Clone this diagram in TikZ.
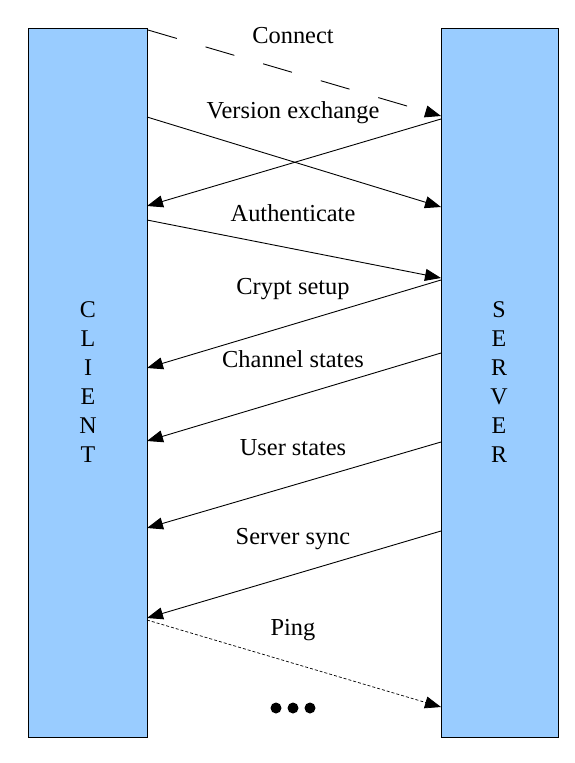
\documentclass[tikz,border=0pt]{standalone}
\usepackage{fontspec}
\setmainfont{Liberation Serif}
\usetikzlibrary{arrows.meta}
\definecolor{barblue}{HTML}{99CCFF}
\begin{document}
\begin{tikzpicture}[x=1pt,y=-1pt,
  bar/.style={draw=black,line width=0.9pt,fill=barblue,inner sep=0pt,outer sep=0pt},
  letters/.style={align=center,inner sep=0pt,font=\fontsize{24}{29}\selectfont},
  lbl/.style={anchor=base,inner sep=0pt,font=\fontsize{24.4}{29}\selectfont},
  msg/.style={line width=0.9pt,-{Triangle[length=16pt,width=12pt]}},
  dot/.style={circle,fill=black,inner sep=0pt,minimum size=11pt}]
\useasboundingbox (0,0) rectangle (574,763);
\node[bar,minimum width=119pt,minimum height=709pt] (client) at (87.5,382.5) {};
\node[bar,minimum width=117pt,minimum height=709pt] (server) at (499.5,382.5) {};
\node[letters] (clientlbl) at (88,382.5) {C\\L\\I\\E\\N\\T};
\node[letters] (serverlbl) at (499,382.5) {S\\E\\R\\V\\E\\R};
% endpoints on the bars
\coordinate (c0) at (148,30);
\coordinate (s0) at (441,116);
\coordinate (s1) at (441,119);
\coordinate (c1) at (147,206);
\coordinate (c2) at (147,117);
\coordinate (s2) at (441,207);
\coordinate (c3) at (147,220);
\coordinate (s3) at (441,278);
\coordinate (s4) at (441,280);
\coordinate (c4) at (147,368);
\coordinate (s5) at (441,353);
\coordinate (c5) at (147,441);
\coordinate (s6) at (441,442);
\coordinate (c6) at (147,528);
\coordinate (s7) at (441,531);
\coordinate (c7) at (147,618);
\coordinate (c8) at (147,620);
\coordinate (s8) at (441,707);
% messages
\draw[msg,dash pattern=on 30pt off 30pt] (c0) -- (s0);
\draw[msg] (s1) -- (c1);
\draw[msg] (c2) -- (s2);
\draw[msg] (c3) -- (s3);
\draw[msg] (s4) -- (c4);
\draw[msg] (s5) -- (c5);
\draw[msg] (s6) -- (c6);
\draw[msg] (s7) -- (c7);
\draw[msg,line width=0.7pt,dash pattern=on 3pt off 2pt] (c8) -- (s8);
% labels
\node[lbl] (l0) at (293,43) {Connect};
\node[lbl] (l1) at (293,118) {Version exchange};
\node[lbl] (l2) at (293,221) {Authenticate};
\node[lbl] (l3) at (293,294) {Crypt setup};
\node[lbl] (l4) at (293,367) {Channel states};
\node[lbl] (l5) at (293,455) {User states};
\node[lbl] (l6) at (293,544) {Server sync};
\node[lbl] (l7) at (293,635) {Ping};
\node[dot] (d1) at (276,708) {};
\node[dot] (d2) at (293,708) {};
\node[dot] (d3) at (310,708) {};
\end{tikzpicture}
\end{document}
